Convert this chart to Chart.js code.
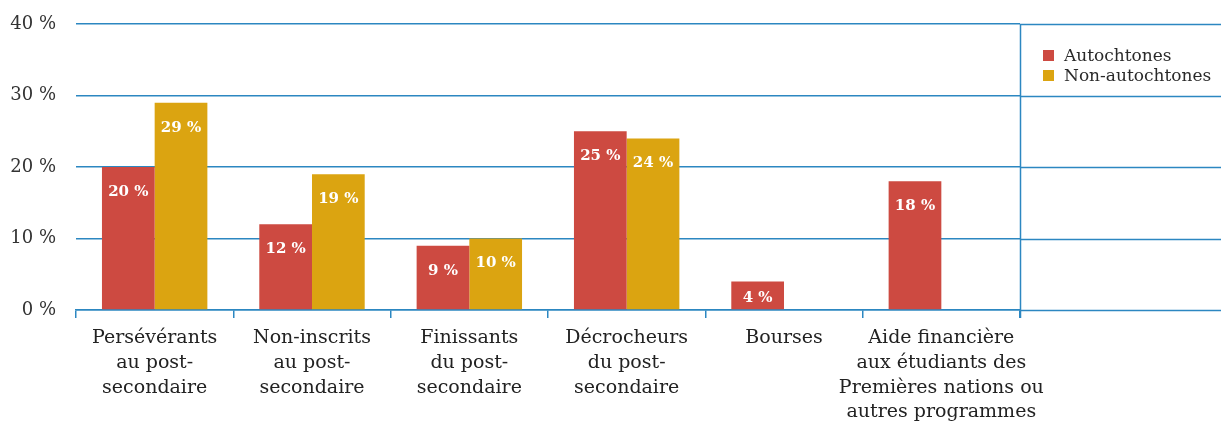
<!DOCTYPE html>
<html>
<head>
<meta charset="utf-8">
<script src="https://cdn.jsdelivr.net/npm/chart.js@4/dist/chart.umd.min.js"></script>
<style>
html,body{margin:0;padding:0;background:#fff;}
#wrap{width:1221px;height:428px;position:relative;}
</style>
</head>
<body>
<div id="wrap"><canvas id="c" width="1221" height="428"></canvas></div>
<script>
const categories = [
  ["Persévérants","au post-","secondaire"],
  ["Non-inscrits","au post-","secondaire"],
  ["Finissants","du post-","secondaire"],
  ["Décrocheurs","du post-","secondaire"],
  ["Bourses"],
  ["Aide financière","aux étudiants des","Premières nations ou","autres programmes"]
];
const autochtones = [20, 12, 9, 25, 4, 18];
const nonAutochtones = [29, 19, 10, 24, null, null];
const seriesNames = ["Autochtones", "Non-autochtones"];
const yTicks = [0, 10, 20, 30, 40];

const RED = "#CD4A41";
const YELLOW = "#DBA411";
const BLUE = "#2C87C1";
const SERIF = "'DejaVu Serif', serif";

const extrasPlugin = {
  id: "extras",
  afterDraw(chart) {
    const ctx = chart.ctx;
    const ca = chart.chartArea;
    const y = chart.scales.y;
    const W = chart.width;
    ctx.save();
    ctx.strokeStyle = BLUE;
    ctx.lineWidth = 1.5;
    yTicks.forEach(v => {
      const py = Math.round(y.getPixelForValue(v)) + 0.5;
      ctx.beginPath();
      ctx.moveTo(ca.right, py);
      ctx.lineTo(W, py);
      ctx.stroke();
    });
    ctx.beginPath();
    ctx.moveTo(Math.round(ca.right) + 0.5, ca.top);
    ctx.lineTo(Math.round(ca.right) + 0.5, ca.bottom + 8);
    ctx.stroke();
    // legend
    ctx.font = "17px " + SERIF;
    ctx.textBaseline = "middle";
    ctx.textAlign = "left";
    chart.data.datasets.forEach((ds, i) => {
      const ly = 56 + i * 20;
      ctx.fillStyle = ds.backgroundColor;
      ctx.fillRect(ca.right + 23, ly - 6, 11, 11);
      ctx.fillStyle = "#2a2a2a";
      ctx.fillText(ds.label, ca.right + 44, ly + 1);
    });
    // data labels
    ctx.font = "bold 15px " + SERIF;
    ctx.fillStyle = "#ffffff";
    ctx.textAlign = "center";
    chart.data.datasets.forEach((ds, i) => {
      const meta = chart.getDatasetMeta(i);
      meta.data.forEach((el, j) => {
        const v = ds.data[j];
        if (v === null || v === undefined) return;
        const ly = Math.min(el.y + 25, (el.y + el.base) / 2 + 3);
        ctx.fillText(v + " %", el.x, ly);
      });
    });
    ctx.restore();
  }
};

new Chart(document.getElementById("c"), {
  type: "bar",
  data: {
    labels: categories,
    datasets: [
      { label: seriesNames[0], data: autochtones, backgroundColor: RED },
      { label: seriesNames[1], data: nonAutochtones, backgroundColor: YELLOW }
    ]
  },
  options: {
    responsive: false,
    animation: false,
    devicePixelRatio: 1,
    layout: { padding: { top: 24, right: 201, left: 0, bottom: 0 } },
    datasets: { bar: { categoryPercentage: 0.67, barPercentage: 1.0 } },
    plugins: { legend: { display: false }, tooltip: { enabled: false } },
    scales: {
      x: {
        afterFit(scale) { scale.height = 118; scale.paddingTop = 0; scale.paddingBottom = 0; },
        grid: {
          offset: true,
          drawOnChartArea: false,
          drawTicks: true,
          tickLength: 8,
          color: BLUE,
          lineWidth: 1.5
        },
        border: { display: true, color: BLUE, width: 1.5 },
        ticks: {
          color: "#222",
          font: { family: SERIF, size: 19, lineHeight: 1.3 },
          padding: 8,
          maxRotation: 0,
          autoSkip: false
        }
      },
      y: {
        min: 0,
        max: 40,
        afterFit(scale) { scale.width = 76; scale.paddingTop = 0; scale.paddingBottom = 0; },
        afterBuildTicks(scale) { scale.ticks = yTicks.map(v => ({ value: v })); },
        grid: {
          drawTicks: false,
          color: BLUE,
          lineWidth: 1.5
        },
        border: { display: false },
        ticks: {
          color: "#333",
          font: { family: SERIF, size: 18 },
          padding: 20,
          callback: v => v + " %"
        }
      }
    }
  },
  plugins: [extrasPlugin]
});
</script>
</body>
</html>
